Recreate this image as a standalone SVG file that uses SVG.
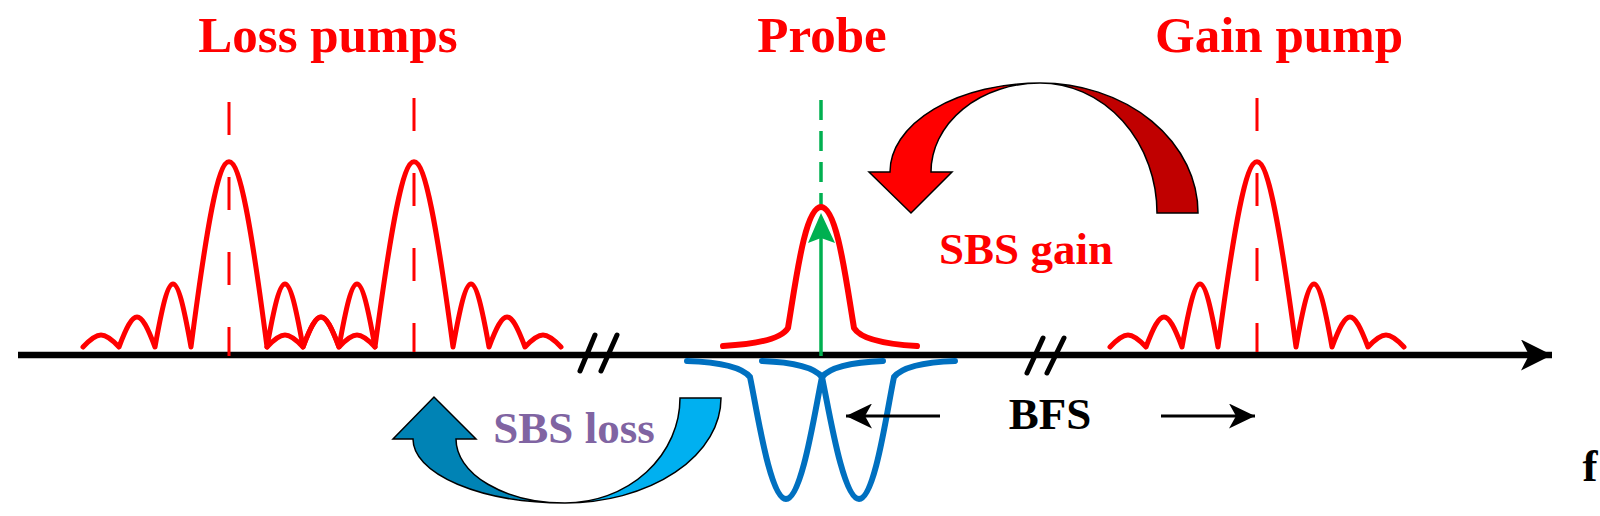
<svg xmlns="http://www.w3.org/2000/svg" width="1600" height="516" viewBox="0 0 1600 516">
<defs>
<style>
.lbl{font-family:"Liberation Serif","Times New Roman",serif;font-weight:bold;text-anchor:middle}
.red{fill:#FF0000}
.spec{fill:none;stroke:#FF0000;stroke-width:5;stroke-linejoin:round;stroke-linecap:round}
.rdash{fill:none;stroke:#FF0000;stroke-width:3;stroke-dasharray:33 42}
.blue{fill:none;stroke:#0070C0;stroke-width:6;stroke-linecap:round;stroke-linejoin:round}
.brk{stroke:#000;stroke-width:5;stroke-linecap:round}
.outl{stroke:#000;stroke-width:1.5;stroke-linejoin:miter}
</style>
<marker id="axHead" markerUnits="userSpaceOnUse" markerWidth="32" markerHeight="31" viewBox="0 0 32 31" refX="31" refY="15.5" orient="auto">
<path d="M0,0 L31,15.5 L0,31 L8,15.5 Z" fill="#000"/>
</marker>
<marker id="smHead" markerUnits="userSpaceOnUse" markerWidth="27" markerHeight="25" viewBox="0 0 27 25" refX="26" refY="12.5" orient="auto">
<path d="M0,0 L26,12.5 L0,25 L7,12.5 Z" fill="#000"/>
</marker>
</defs>
<rect width="1600" height="516" fill="#FFFFFF"/>

<g id="axis">
<line x1="18" y1="355" x2="1552" y2="355" stroke="#000" stroke-width="6.5" marker-end="url(#axHead)"/>
<line class="brk" x1="595" y1="335" x2="580" y2="371"/>
<line class="brk" x1="617" y1="335" x2="601" y2="371"/>
<line class="brk" x1="1043" y1="338" x2="1027" y2="373"/>
<line class="brk" x1="1064" y1="338" x2="1047" y2="373"/>
<text class="lbl" x="1590" y="481" font-size="45" fill="#000">f</text>
</g>

<g id="loss-pumps">
<line class="rdash" x1="229" y1="102" x2="229" y2="356"/>
<line class="rdash" x1="414" y1="98" x2="414" y2="352"/>
<path class="spec" d="M83,347 C98,331 104,331 119,347 C134,307 140,307 155,347 C170,263 176,263 191,347 C223,100 235,100 267,347 C282,263 288,263 303,347 C318,307 324,307 339,347 C354,331 360,331 375,347"/>
<path class="spec" d="M267,347 C282,331 288,331 303,347 C318,307 324,307 339,347 C354,263 360,263 375,347 C408,100 420,100 453,347 C468,263 474,263 489,347 C504,307 510,307 525,347 C540,331 546,331 561,347"/>
<text class="lbl red" x="328" y="52" font-size="51">Loss pumps</text>
</g>

<g id="gain-pump">
<line class="rdash" x1="1257" y1="98" x2="1257" y2="352"/>
<path class="spec" d="M1110,347 C1125,331 1131,331 1146,347 C1161,307 1167,307 1182,347 C1197,263 1203,263 1218,347 C1251,100 1263,100 1296,347 C1311,263 1317,263 1332,347 C1347,307 1353,307 1368,347 C1383,331 1389,331 1404,347"/>
<text class="lbl red" x="1279" y="52" font-size="51">Gain pump</text>
</g>

<g id="probe">
<line x1="821" y1="100" x2="821" y2="207" stroke="#00B050" stroke-width="3.5" stroke-dasharray="20 11"/>
<path d="M723,346 C760,344 782,338 788,328 C796,280 805,207 821,207 C837,207 846,280 854,328 C860,338 882,344 917,346" fill="none" stroke="#FF0000" stroke-width="6" stroke-linecap="round" stroke-linejoin="round"/>
<line x1="821" y1="356" x2="821" y2="228" stroke="#00B050" stroke-width="3.5"/>
<path d="M821,213 L835,243 L821,238 L808,243 Z" fill="#00B050"/>
<text class="lbl red" x="822" y="52" font-size="51">Probe</text>
</g>

<g id="loss-spectrum">
<path class="blue" d="M687,361 C715,362 741,366 750,377 C757,410 770,499 786,499 C802,499 815,410 822,377 C831,366 857,362 883,361"/>
<path class="blue" d="M762,361 C788,362 813,366 822,377 C829,410 843,499 859,499 C875,499 887,410 894,377 C903,366 928,362 955,361"/>
</g>

<g id="sbs-gain">
<text class="lbl red" x="1026" y="264" font-size="45">SBS gain</text>
</g>
<g id="sbs-loss">
<text class="lbl" x="574" y="443" font-size="45" fill="#8064A2">SBS loss</text>
</g>
<g id="bfs">
<text class="lbl" x="1050" y="429" font-size="45" fill="#000">BFS</text>
</g>

<g id="connectors">
<path class="outl" fill="#C00000" d="M1157,213 A117,130 0 0 0 1040,83 A158,130 0 0 1 1198,213 Z"/>
<path class="outl" fill="#FF0000" d="M1040,83 A150,89 0 0 0 890,172 L869,172 L911,213 L952,172 L931,172 A109,89 0 0 1 1040,83 Z"/>
<path class="outl" fill="#00B0F0" d="M680,398 A115,105 0 0 1 565,503 A156,105 0 0 0 721,398 Z"/>
<path class="outl" fill="#0083B5" d="M565,503 A152,64 0 0 1 413,439 L393,439 L434,397 L476,439 L456,439 A109,64 0 0 0 565,503 Z"/>
<line x1="940" y1="416" x2="846" y2="416" stroke="#000" stroke-width="3" marker-end="url(#smHead)"/>
<line x1="1161" y1="416" x2="1255" y2="416" stroke="#000" stroke-width="3" marker-end="url(#smHead)"/>
</g>
</svg>
